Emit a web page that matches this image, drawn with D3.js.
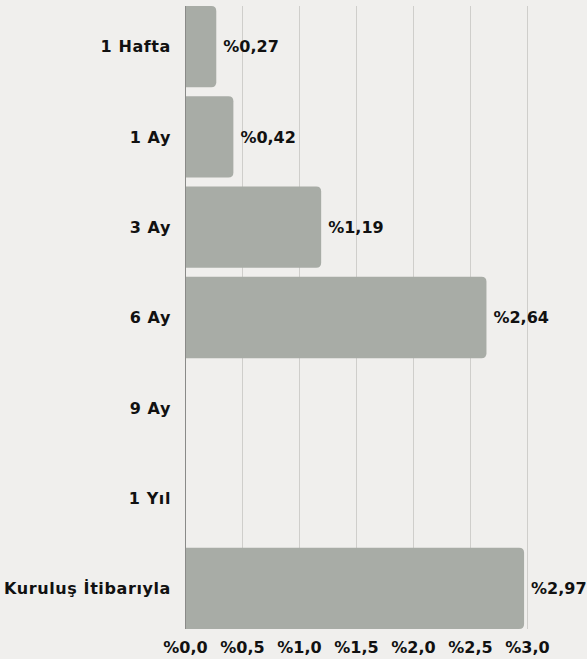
<html lang="tr">
  <head>
    <meta charset="utf-8">
    <title>Getiri</title>
    <script src="https://d3js.org/d3.v7.min.js"></script>
    <style>
      body { margin: 0; background: #f0efed; }
      .label { font-family: "DejaVu Sans", sans-serif; font-size: 16px; font-weight: 700; fill: #111; }
      .cat { letter-spacing: 0.6px; }
    </style>
  </head>
  <body>
    <script>
    // periods and returns (%) - 9 Ay and 1 Yil have no value
    var periods = ["1 Hafta", "1 Ay", "3 Ay", "6 Ay", "9 Ay", "1 Yıl", "Kuruluş İtibarıyla"];
    var returns = [0.27, 0.42, 1.19, 2.64, null, null, 2.97];
    var ticks = [0, 0.5, 1, 1.5, 2, 2.5, 3];

    var w = 587, h = 659;
    var fmt = function(v, d) { return "%" + v.toFixed(d).replace(".", ","); };

    var data = periods.map(function(p, i) { return { name: p, v: returns[i] }; });

    var x = d3.scaleLinear().domain([0, 3]).range([185.5, 527.5]);
    var y = d3.scaleBand().domain(periods).range([6, 629]).paddingInner(0.1).paddingOuter(0);

    var svg = d3.select("body").append("svg")
      .attr("width", w).attr("height", h);

    // grid
    svg.selectAll("line.grid")
      .data(ticks.slice(1))
      .enter().append("line")
      .attr("x1", function(d) { return x(d); })
      .attr("x2", function(d) { return x(d); })
      .attr("y1", 6).attr("y2", 629)
      .attr("stroke", "#cfcecb").attr("stroke-width", 1);

    // bars, rounded on the right
    var r = 5;
    svg.selectAll("path.bar")
      .data(data.filter(function(d) { return d.v != null; }))
      .enter().append("path")
      .attr("fill", "#a8aca6")
      .attr("d", function(d) {
        var x0 = x(0), x1 = x(d.v), y0 = y(d.name), bh = y.bandwidth();
        return "M" + x0 + "," + y0 + "H" + (x1 - r) + "Q" + x1 + "," + y0 + " " + x1 + "," + (y0 + r) +
          "V" + (y0 + bh - r) + "Q" + x1 + "," + (y0 + bh) + " " + (x1 - r) + "," + (y0 + bh) +
          "H" + x0 + "Z";
      });

    // left axis line
    svg.append("line")
      .attr("x1", x(0)).attr("x2", x(0))
      .attr("y1", 6).attr("y2", 629)
      .attr("stroke", "#8a8a88").attr("stroke-width", 1);

    // category labels
    svg.selectAll("text.cat")
      .data(periods)
      .enter().append("text")
      .attr("class", "label cat")
      .attr("x", 171)
      .attr("y", function(d) { return y(d) + y.bandwidth() / 2; })
      .attr("dy", "0.36em")
      .style("text-anchor", "end")
      .text(function(d) { return d; });

    // value labels
    svg.selectAll("text.val")
      .data(data.filter(function(d) { return d.v != null; }))
      .enter().append("text")
      .attr("class", "label")
      .attr("x", function(d) { return x(d.v) + 7; })
      .attr("y", function(d) { return y(d.name) + y.bandwidth() / 2; })
      .attr("dy", "0.36em")
      .text(function(d) { return fmt(d.v, 2); });

    // x tick labels
    svg.selectAll("text.tick")
      .data(ticks)
      .enter().append("text")
      .attr("class", "label")
      .attr("x", function(d) { return x(d); })
      .attr("y", 653)
      .style("text-anchor", "middle")
      .text(function(d) { return fmt(d, 1); });
    </script>
  </body>
</html>
